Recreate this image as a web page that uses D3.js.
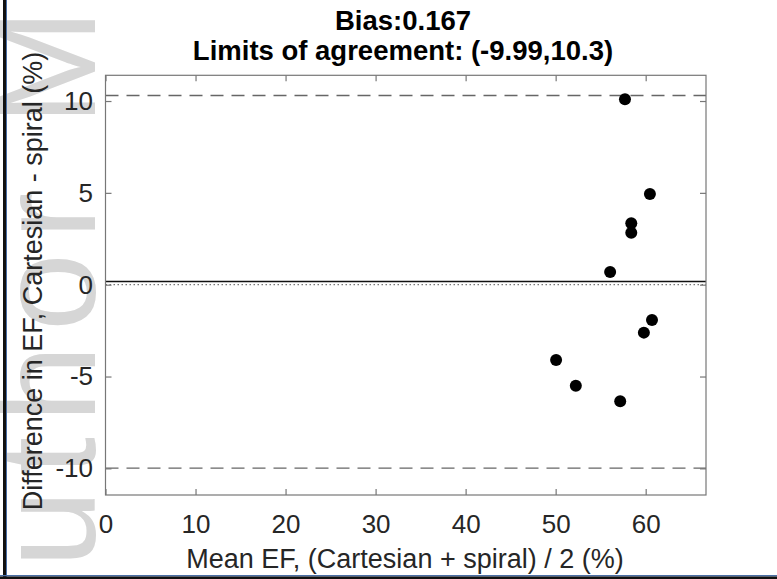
<!DOCTYPE html>
<html>
<head>
<meta charset="utf-8">
<script src="https://cdn.jsdelivr.net/npm/d3@7"></script>
<style>
  body { margin: 0; background: #fff; }
  svg { display: block; font-family: "Liberation Sans", Arial, sans-serif; }
</style>
</head>
<body>
<script>
// Bland-Altman: Cartesian vs spiral EF
const width = 777;
const height = 579;
const margin = {top: 75.3, left: 105.5, bottom: 84, right: 71};

const meanEF = [57.7, 60.47, 58.4, 58.4, 56.05, 60.7, 59.8, 50.05, 52.24, 57.17];
const diffEF = [10.09, 4.94, 3.34, 2.83, 0.69, -1.92, -2.61, -4.10, -5.50, -6.35];
const bias = 0.167;
const limits = [-9.99, 10.3];
const xTicks = [0, 10, 20, 30, 40, 50, 60];
const yTicks = [-10, -5, 0, 5, 10];

const points = meanEF.map((m, i) => ({x: m, y: diffEF[i]}));

const x = d3.scaleLinear()
  .domain([0, 66.7])
  .range([margin.left, width - margin.right]);

const y = d3.scaleLinear()
  .domain([-11.45, 11.4])
  .range([height - margin.bottom, margin.top]);

const svg = d3.select('body').append('svg')
  .attr('width', width)
  .attr('height', height);

// watermark on the left
svg.append('text')
  .attr('transform', 'translate(95,675) rotate(-90)')
  .attr('font-size', 140)
  .attr('letter-spacing', 14)
  .attr('fill', '#d6d6d6')
  .text('Author Manuscript');

// frame of the scanned page
svg.append('rect').attr('x', 3).attr('y', 0).attr('width', 3).attr('height', height).attr('fill', '#111');
svg.append('rect').attr('x', 6).attr('y', 0).attr('width', 1).attr('height', height).attr('fill', '#4a6fa5');
svg.append('rect').attr('x', 0).attr('y', 575).attr('width', width).attr('height', 1.5).attr('fill', '#4a6fa5');
svg.append('rect').attr('x', 0).attr('y', 576.5).attr('width', width).attr('height', 2.5).attr('fill', '#111');

const axisStyle = g => g
  .call(g => g.select('.domain').remove())
  .call(g => g.selectAll('.tick line').attr('stroke', '#777').attr('stroke-width', 1.2))
  .call(g => g.selectAll('.tick text')
    .attr('fill', '#262626')
    .attr('font-size', 26)
    .attr('font-family', '"Liberation Sans", Arial, sans-serif'));

const fmt = d => String(d);

const xAxis = g => g
  .attr('transform', `translate(0, ${height - margin.bottom})`)
  .call(d3.axisBottom(x).tickValues(xTicks).tickFormat(fmt).tickSizeInner(-6).tickSizeOuter(0).tickPadding(19.5))
  .call(axisStyle);

const xAxisTop = g => g
  .attr('transform', `translate(0, ${margin.top})`)
  .call(d3.axisTop(x).tickValues(xTicks).tickSizeInner(-6).tickSizeOuter(0).tickFormat(''))
  .call(axisStyle);

const yAxis = g => g
  .attr('transform', `translate(${margin.left}, 0)`)
  .call(d3.axisLeft(y).tickValues(yTicks).tickFormat(fmt).tickSizeInner(-6).tickSizeOuter(0).tickPadding(12.5))
  .call(axisStyle);

const yAxisRight = g => g
  .attr('transform', `translate(${width - margin.right}, 0)`)
  .call(d3.axisRight(y).tickValues(yTicks).tickSizeInner(-6).tickSizeOuter(0).tickFormat(''))
  .call(axisStyle);

// reference lines
const x0 = x.range()[0], x1 = x.range()[1];
svg.append('line')
  .attr('x1', x0).attr('x2', x1).attr('y1', y(0)).attr('y2', y(0))
  .attr('stroke', '#777').attr('stroke-width', 1.3).attr('stroke-dasharray', '1.5,2.5');
svg.append('line')
  .attr('x1', x0).attr('x2', x1).attr('y1', y(bias)).attr('y2', y(bias))
  .attr('stroke', '#111').attr('stroke-width', 1.5);
svg.append('g')
  .selectAll('line').data(limits).enter().append('line')
  .attr('x1', x0).attr('x2', x1)
  .attr('y1', d => y(d)).attr('y2', d => y(d))
  .attr('stroke', '#666').attr('stroke-width', 1.3).attr('stroke-dasharray', '13,8');

svg.append('g').call(xAxis);
svg.append('g').call(xAxisTop);
svg.append('g').call(yAxis);
svg.append('g').call(yAxisRight);

svg.append('rect')
  .attr('x', x0).attr('y', margin.top)
  .attr('width', x1 - x0).attr('height', height - margin.bottom - margin.top)
  .attr('fill', 'none').attr('stroke', '#777').attr('stroke-width', 1.2);

svg.append('g')
  .attr('fill', '#000')
  .selectAll('circle').data(points).enter().append('circle')
  .attr('cx', d => x(d.x))
  .attr('cy', d => y(d.y))
  .attr('r', 6);

// titles and labels
svg.append('text')
  .attr('x', 403).attr('y', 29.5)
  .attr('text-anchor', 'middle').attr('font-size', 27.5).attr('font-weight', 'bold').attr('fill', '#000')
  .text('Bias:' + bias);
svg.append('text')
  .attr('x', 403).attr('y', 60)
  .attr('text-anchor', 'middle').attr('font-size', 27.5).attr('font-weight', 'bold').attr('fill', '#000')
  .text(`Limits of agreement: (${limits[0]},${limits[1]})`);

svg.append('text')
  .attr('x', 405).attr('y', 568)
  .attr('text-anchor', 'middle').attr('font-size', 27).attr('fill', '#262626')
  .text('Mean EF, (Cartesian + spiral) / 2 (%)');

svg.append('text')
  .attr('transform', 'translate(42,281) rotate(-90)')
  .attr('text-anchor', 'middle').attr('font-size', 27).attr('fill', '#262626')
  .text('Difference in EF, Cartesian - spiral (%)');
</script>
</body>
</html>
